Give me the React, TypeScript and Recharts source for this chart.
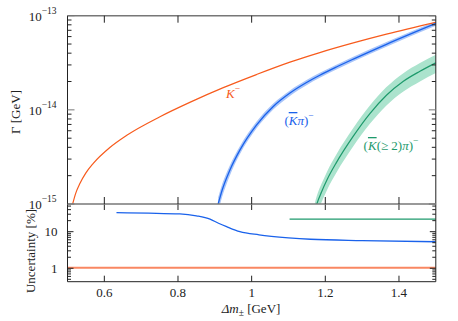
import React from 'react';
import {
  ComposedChart,
  Line,
  Area,
  XAxis,
  YAxis,
  ReferenceLine,
} from 'recharts';

// decay width Gamma [GeV] vs mass splitting Delta m [GeV]
const kDm = [0.514, 0.522, 0.534, 0.55, 0.57, 0.615, 0.661, 0.751, 0.832, 0.923, 1.013, 1.104, 1.185, 1.276, 1.366, 1.5];
const kWidth = [1.0e-15, 1.29e-15, 1.66e-15, 2.14e-15, 2.7e-15, 3.98e-15, 5.37e-15, 8.45e-15, 1.2e-14, 1.72e-14, 2.37e-14, 3.21e-14, 4.06e-14, 5.14e-14, 6.37e-14, 8.49e-14];

const kpiDm = [0.909, 0.92, 0.941, 0.968, 1.013, 1.058, 1.104, 1.149, 1.185, 1.23, 1.276, 1.366, 1.5];
const kpiWidth = [1.0e-15, 1.41e-15, 2.3e-15, 3.74e-15, 6.9e-15, 1.08e-14, 1.507e-14, 1.95e-14, 2.33e-14, 2.85e-14, 3.46e-14, 4.97e-14, 8.28e-14];
const kpiUnc = [17, 15.5, 12.5, 10, 8.4, 7.4, 6.8, 6.3, 6.1, 6.0, 5.8, 5.6, 5.3]; // %

const k2piDm = [1.165, 1.177, 1.19, 1.205, 1.23, 1.276, 1.321, 1.366, 1.411, 1.457, 1.5];
const k2piWidth = [6.5e-16, 1.0e-15, 1.35e-15, 1.82e-15, 2.75e-15, 5.25e-15, 9.12e-15, 1.43e-14, 2.0e-14, 2.57e-14, 3.16e-14];
const k2piUnc = [22, 22, 22, 22, 22, 22, 22, 22, 22, 22, 22]; // %

// relative uncertainty panel [%]
const kUncDm = [0.5, 1.5];
const kUncVal = [1.03, 1.03];
const kpiUncDm = [0.633, 0.72, 0.805, 0.85, 0.887, 0.91, 0.932, 0.968, 1.02, 1.1, 1.16, 1.3, 1.5];
const kpiUncVal = [33, 32, 30.5, 27, 22, 17, 13.7, 10, 8.2, 6.8, 6.2, 5.7, 5.3];
const k2piUncDm = [1.103, 1.5];
const k2piUncVal = [22, 22];

const xTicks = [0.6, 0.8, 1, 1.2, 1.4];
const widthMajor = [1e-15, 1e-14, 1e-13];
const widthMinor = [2e-15, 3e-15, 4e-15, 5e-15, 6e-15, 7e-15, 8e-15, 9e-15, 2e-14, 3e-14, 4e-14, 5e-14, 6e-14, 7e-14, 8e-14, 9e-14];
const uncMajor = [1, 10];
const uncMinor = [0.5, 0.6, 0.7, 0.8, 0.9, 2, 3, 4, 5, 6, 7, 8, 9, 20, 30, 40, 50];

const ORANGE = '#f75b1d';
const ORANGE_LIGHT = '#f98762';
const BLUE = '#1a62eb';
const BLUE_BAND = '#a9c5f9';
const GREEN = '#1e9a6c';
const GREEN_BAND = '#abe3cd';
const INK = '#222';
const FONT = 'Liberation Serif, DejaVu Serif, serif';

// layout
const W = 458;
const PL = 67.5;
const PR = 435.8;
const TOP0 = 15.7;
const DIV = 204;
const BOT1 = 281.7;
const PW = PR - PL;
const TOP_H = DIV - TOP0;
const BOT_H = BOT1 - DIV;

const txt = { fontFamily: FONT };

const series = (xs: number[], ys: number[]) => xs.map((x, i) => ({ x, y: ys[i] }));
const banded = (xs: number[], ys: number[], unc: number[]) =>
  xs.map((x, i) => ({ x, y: ys[i], band: [ys[i] * (1 - unc[i] / 100), ys[i] * (1 + unc[i] / 100)] }));

const kData = series(kDm, kWidth);
const kpiData = banded(kpiDm, kpiWidth, kpiUnc);
const k2piData = banded(k2piDm, k2piWidth, k2piUnc);

const expLabel = (v: number) => String(Math.round(Math.log10(v))).replace('-', '−');

function TopXTick(props: any) {
  const { x, y } = props;
  return (
    <g>
      <line x1={x} x2={x} y1={y} y2={y - 7} stroke={INK} />
      <line x1={x} x2={x} y1={y - TOP_H} y2={y - TOP_H + 7} stroke={INK} />
    </g>
  );
}

function BottomXTick(props: any) {
  const { x, y, payload } = props;
  return (
    <g>
      <line x1={x} x2={x} y1={y} y2={y - 6} stroke={INK} />
      <line x1={x} x2={x} y1={y - BOT_H} y2={y - BOT_H + 6} stroke={INK} />
      <text x={x} y={y + 15} textAnchor="middle" fontSize={13} style={txt} fill={INK}>
        {payload.value}
      </text>
    </g>
  );
}

function WidthTick(props: any) {
  const { x, y, payload } = props;
  const major = widthMajor.includes(payload.value);
  const len = major ? 7 : 4;
  return (
    <g>
      <line x1={x} x2={x + len} y1={y} y2={y} stroke={major ? '#777' : INK} />
      <line x1={x + PW} x2={x + PW - len} y1={y} y2={y} stroke={major ? '#777' : INK} />
      {major && (
        <text x={x - 11} y={y + 5} textAnchor="end" fontSize={13} style={txt} fill={INK}>
          10
          <tspan dy={-7} fontSize={9.5}>{expLabel(payload.value)}</tspan>
        </text>
      )}
    </g>
  );
}

function UncTick(props: any) {
  const { x, y, payload } = props;
  const major = uncMajor.includes(payload.value);
  const len = major ? 6 : 3.5;
  return (
    <g>
      <line x1={x} x2={x + len} y1={y} y2={y} stroke={INK} />
      <line x1={x + PW} x2={x + PW - len} y1={y} y2={y} stroke={INK} />
      {major && (
        <text x={x - 10} y={y + 4.5} textAnchor="end" fontSize={13} style={txt} fill={INK}>
          {payload.value}
        </text>
      )}
    </g>
  );
}

export default function App() {
  return (
    <div style={{ position: 'absolute', left: 0, top: 0, width: W, height: 321, background: '#fff' }}>
      <div style={{ position: 'absolute', left: 0, top: DIV }}>
        <ComposedChart width={W} height={321 - DIV} margin={{ top: 0, right: W - PR, bottom: 0, left: 0 }}>
          <XAxis
            type="number"
            dataKey="x"
            domain={[0.5, 1.5]}
            ticks={xTicks}
            allowDataOverflow
            height={321 - BOT1}
            tickSize={0}
            tickMargin={0}
            tick={<BottomXTick />}
            axisLine={{ stroke: INK }}
          />
          <YAxis
            type="number"
            scale="log"
            domain={[0.43, 57]}
            allowDataOverflow
            ticks={[...uncMajor, ...uncMinor]}
            width={PL}
            tickSize={0}
            tickMargin={0}
            tick={<UncTick />}
            axisLine={{ stroke: INK }}
            interval={0}
          />
          <Line data={series(kUncDm, kUncVal)} dataKey="y" type="linear" stroke={ORANGE_LIGHT} strokeWidth={2} dot={false} isAnimationActive={false} />
          <Line data={series(kpiUncDm, kpiUncVal)} dataKey="y" type="monotone" stroke={BLUE} strokeWidth={1.3} dot={false} isAnimationActive={false} />
          <Line data={series(k2piUncDm, k2piUncVal)} dataKey="y" type="linear" stroke={GREEN} strokeWidth={1.3} dot={false} isAnimationActive={false} />
          <ReferenceLine x={1.5} stroke={INK} />
        </ComposedChart>
      </div>
      <div style={{ position: 'absolute', left: 0, top: 0 }}>
        <ComposedChart width={W} height={DIV + 12} margin={{ top: TOP0, right: W - PR, bottom: 0, left: 0 }}>
          <XAxis
            type="number"
            dataKey="x"
            domain={[0.5, 1.5]}
            ticks={xTicks}
            allowDataOverflow
            height={12}
            tickSize={0}
            tickMargin={0}
            tick={<TopXTick />}
            axisLine={{ stroke: '#777', strokeWidth: 1.4 }}
          />
          <YAxis
            type="number"
            scale="log"
            domain={[1e-15, 1e-13]}
            allowDataOverflow
            ticks={[...widthMajor, ...widthMinor]}
            width={PL}
            tickSize={0}
            tickMargin={0}
            tick={<WidthTick />}
            axisLine={{ stroke: INK }}
            interval={0}
          />
          <Area data={kpiData} dataKey="band" type="monotone" stroke="none" fill={BLUE_BAND} fillOpacity={1} isAnimationActive={false} />
          <Area data={k2piData} dataKey="band" type="monotone" stroke="none" fill={GREEN_BAND} fillOpacity={1} isAnimationActive={false} />
          <Line data={kData} dataKey="y" type="monotone" stroke={ORANGE} strokeWidth={1.2} dot={false} isAnimationActive={false} />
          <Line data={kpiData} dataKey="y" type="monotone" stroke={BLUE} strokeWidth={1.3} dot={false} isAnimationActive={false} />
          <Line data={k2piData} dataKey="y" type="monotone" stroke={GREEN} strokeWidth={1.2} dot={false} isAnimationActive={false} />
          <ReferenceLine y={1e-13} stroke="#777" strokeWidth={1.4} />
          <ReferenceLine x={1.5} stroke={INK} />
        </ComposedChart>
      </div>
      <svg width={W} height={321} style={{ position: 'absolute', left: 0, top: 0, pointerEvents: 'none', fontFamily: FONT }}>
        <text transform="translate(20,112) rotate(-90)" textAnchor="middle" fontSize={13} fill={INK}>
          Γ [GeV]
        </text>
        <text transform="translate(35,251) rotate(-90)" textAnchor="middle" fontSize={13} fill={INK}>
          Uncertainty [%]
        </text>
        <text x={251} y={313} textAnchor="middle" fontSize={13} fill={INK}>
          <tspan fontStyle="italic">Δm</tspan>
          <tspan fontSize={9.5} dy={3}>±</tspan>
          <tspan dy={-3}> [GeV]</tspan>
        </text>
        <text x={233} y={98} textAnchor="middle" fontSize={13} fill={ORANGE}>
          <tspan fontStyle="italic">K</tspan>
          <tspan fontSize={9.5} dy={-6}>−</tspan>
        </text>
        <text x={299} y={125} textAnchor="middle" fontSize={13} fill={BLUE}>
          (<tspan fontStyle="italic" style={{ textDecoration: 'overline' }}>K</tspan>
          <tspan fontStyle="italic">π</tspan>)
          <tspan fontSize={9.5} dy={-6}>−</tspan>
        </text>
        <text x={391} y={150} textAnchor="middle" fontSize={13} fill={GREEN}>
          (<tspan fontStyle="italic" style={{ textDecoration: 'overline' }}>K</tspan>
          <tspan>(≥ 2)</tspan>
          <tspan fontStyle="italic">π</tspan>)
          <tspan fontSize={9.5} dy={-6}>−</tspan>
        </text>
      </svg>
    </div>
  );
}
